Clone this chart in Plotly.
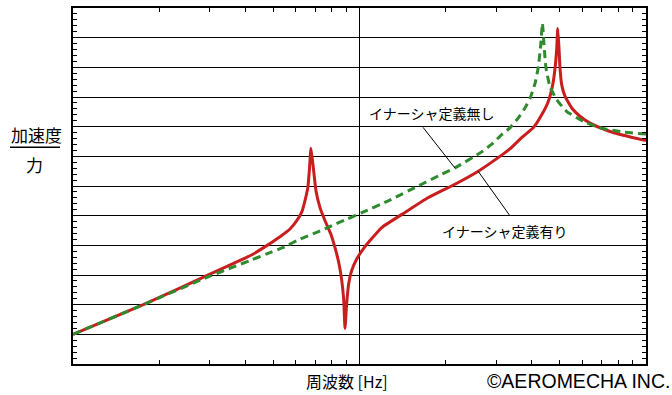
import plotly.graph_objects as go

# Frequency [Hz] and response level (grid units, each gridline = 1)
red_freq = [1.0, 1.76, 2.93, 3.83, 4.26, 4.745, 5.28, 5.72, 6.04, 6.28, 6.45, 6.60, 6.68, 6.77,
            6.90, 7.05, 7.28, 7.58, 7.94, 8.21, 8.48, 8.67, 8.81, 8.90,
            9.02, 9.17, 9.39, 9.78, 10.31, 10.88, 11.96, 14.42, 17.39, 21.54, 25.98,
            31.35, 33.5, 37.0, 40.4, 43.25, 45.6, 47.24, 48.14, 48.8, 49.2,
            49.7, 50.1, 50.8, 52.2, 55.05, 58.8, 63.8, 72.9, 83.3, 100.0]
red_val = [1.0, 2.0, 2.98, 3.49, 3.71, 3.99, 4.29, 4.55, 4.83, 5.11, 5.50, 5.94, 6.50, 7.27,
           6.61, 5.83, 5.27, 4.83, 4.38, 3.93, 3.38, 2.82, 2.15, 1.20,
           2.03, 2.71, 3.15, 3.54, 3.88, 4.16, 4.60, 5.11, 5.61, 6.06, 6.50,
           7.04, 7.25, 7.65, 7.96, 8.40, 8.85, 9.41, 9.97, 10.64, 11.31,
           10.64, 9.97, 9.41, 9.02, 8.63, 8.35, 8.12, 7.88, 7.71, 7.53]

green_freq = [1.0, 1.76, 2.93, 4.15, 4.745, 5.42, 6.20, 7.09, 8.00, 9.02, 10.24,
              12.60, 16.49, 18.84, 21.54, 26.7, 29.3, 31.35, 33.5, 35.8, 37.8, 39.4,
              41.0, 42.1, 42.9, 43.5, 44.06, 44.77, 46.2, 48.8, 52.9, 60.4, 69.1,
              83.3, 100.0]
green_val = [1.0, 2.0, 2.92, 3.49, 3.71, 3.93, 4.21, 4.44, 4.66, 4.88, 5.11,
             5.50, 6.06, 6.34, 6.61, 7.15, 7.45, 7.73, 7.96, 8.29, 8.63, 8.96,
             9.46, 10.02, 10.75, 11.48, 10.75, 9.97, 9.35, 8.91, 8.51, 8.18, 7.96,
             7.82, 7.75]

x_minor = [2, 3, 4, 5, 6, 7, 8, 9, 20, 30, 40, 50, 60, 70, 80, 90]

label_none = "イナーシャ定義無し"
label_with = "イナーシャ定義有り"
x_title = "周波数 [Hz]"
y_num = "加速度"
y_den = "力"
credit = "©AEROMECHA INC."

JP = "Noto Sans CJK JP"

fig = go.Figure()
fig.add_trace(go.Scatter(x=red_freq, y=red_val, mode="lines",
                         line=dict(color="#c81e1e", width=3, shape="spline", smoothing=0.4),
                         hoverinfo="skip"))
fig.add_trace(go.Scatter(x=green_freq, y=green_val, mode="lines",
                         line=dict(color="#2e8b2e", width=3, dash="8px,5px",
                                   shape="spline", smoothing=0.4),
                         hoverinfo="skip"))

fig.update_layout(
    width=672, height=395,
    margin=dict(l=73, r=26, t=6, b=31),
    paper_bgcolor="white", plot_bgcolor="white",
    showlegend=False,
    xaxis=dict(type="log", range=[0, 2], tickvals=[1, 10, 100], ticks="",
               showticklabels=False, showgrid=True, gridcolor="black", gridwidth=1.3,
               showline=True, linecolor="black", linewidth=2, mirror="ticks",
               zeroline=False,
               minor=dict(tickvals=x_minor, ticks="inside", ticklen=4,
                          tickcolor="black", tickwidth=1, showgrid=False)),
    yaxis=dict(range=[0, 12], dtick=1, tick0=0, ticks="", showticklabels=False,
               showgrid=True, gridcolor="black", gridwidth=1.3,
               showline=True, linecolor="black", linewidth=2, mirror="ticks",
               zeroline=False,
               minor=dict(dtick=0.2, ticks="inside", ticklen=4,
                          tickcolor="black", tickwidth=1, showgrid=False)),
)

def px2paper(px, py):
    return (px - 73) / 573.0, (364 - py) / 358.0

annots = [
    (label_none, 431, 112, 14, JP),
    (label_with, 504, 230, 14, JP),
    (x_title, 347, 381, 16, JP),
    (credit, 578, 381, 19.5, "Liberation Sans"),
    (y_num, 36, 133, 17, JP),
    (y_den, 34, 163, 17, JP),
]
for text, px, py, size, fam in annots:
    ax, ay = px2paper(px, py)
    fig.add_annotation(x=ax, y=ay, xref="paper", yref="paper", text=text,
                       showarrow=False, xanchor="center", yanchor="middle",
                       font=dict(family=fam, size=size, color="black"))

for (x0, y0, x1, y1, w) in [(423, 126, 455, 167, 1), (478, 170, 510, 215, 1),
                            (10, 146, 60, 146, 1.5)]:
    a0, b0 = px2paper(x0, y0)
    a1, b1 = px2paper(x1, y1)
    fig.add_shape(type="line", xref="paper", yref="paper", x0=a0, y0=b0, x1=a1, y1=b1,
                  line=dict(color="black", width=w))

fig.write_html("out.html", config={"displayModeBar": False},
               post_script="document.body.style.margin='0';document.body.style.overflow='hidden';")
